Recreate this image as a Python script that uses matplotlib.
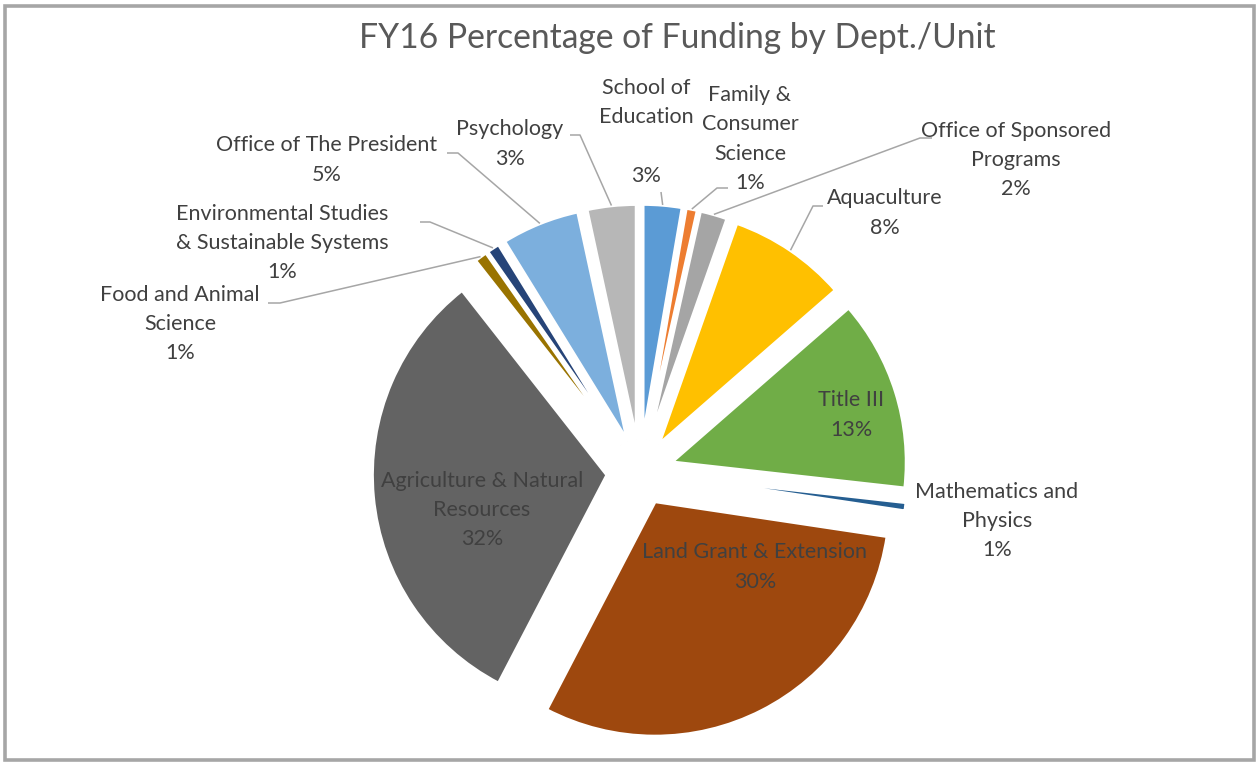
import numpy as np
import matplotlib
matplotlib.use("Agg")
import matplotlib.pyplot as plt
from matplotlib.patches import Rectangle

# data (clockwise from 12 o'clock)
departments = ["School of\nEducation", "Family &\nConsumer\nScience", "Office of Sponsored\nPrograms",
               "Aquaculture", "Title III", "Mathematics and\nPhysics", "Land Grant & Extension",
               "Agriculture & Natural\nResources", "Food and Animal\nScience",
               "Environmental Studies\n& Sustainable Systems", "Office of The President", "Psychology"]
shares = [2.7, 0.8, 1.9, 8.2, 13.2, 0.6, 30.3, 31.8, 0.9, 0.9, 5.4, 3.4]
colors = ["#5B9BD5", "#ED7D31", "#A5A5A5", "#FFC000", "#70AD47", "#255E91",
          "#9E480E", "#636363", "#997300", "#264478", "#7CAFDD", "#B7B7B7"]

# layout, in pixels from the top-left corner of the picture
W, H = 1259, 764
label_xy = [(646, 132), (750, 139), (1016, 160), (885, 213), (851, 415), (997, 521),
            (755, 567), (482, 510), (180, 324), (282, 243), (327, 160), (510, 144)]
# leader lines: elbow point then end of the short horizontal bit (None = no line)
leaders = [[(661, 192)], [(717, 188), (728, 188)], [(920, 138), (932, 138)],
           [(813, 206), (823, 206)], None, None, None, None,
           [(280, 303), (268, 303)], [(430, 222), (420, 222)],
           [(458, 153), (447, 153)], [(580, 135), (570, 135)]]
extra_gap = ["\n", "", "", "", "", "", "", "", "", "", "", ""]

plt.rcParams["font.family"] = ["Lato", "DejaVu Sans"]

fig = plt.figure(figsize=(W / 100, H / 100), dpi=100)
ax = fig.add_axes([0, 0, 1, 1])

total = sum(shares)
wedges, _ = ax.pie(shares, colors=colors, startangle=90, counterclock=False,
                   radius=235, center=(640, H - 472), explode=[33] * len(shares),
                   wedgeprops=dict(edgecolor="white", linewidth=2.5))
ax.set_xlim(0, W)
ax.set_ylim(0, H)
ax.set_aspect("auto")
ax.axis("off")

def px(p):
    return p[0], H - p[1]

for i, w in enumerate(wedges):
    pct = 100 * shares[i] / total
    txt = departments[i] + "\n" + extra_gap[i] + f"{pct:.0f}%"
    x, y = px(label_xy[i])
    ax.text(x, y, txt, ha="center", va="center", fontsize=15.5, color="#404040",
            linespacing=1.58)
    if leaders[i] is not None:
        mid = np.deg2rad((w.theta1 + w.theta2) / 2)
        cx, cy = w.center
        pts = [(cx + w.r * np.cos(mid), cy + w.r * np.sin(mid))] + [px(p) for p in leaders[i]]
        xs, ys = zip(*pts)
        ax.plot(xs, ys, color="#A6A6A6", lw=1.1, solid_capstyle="butt")

ax.text(677, H - 38, "FY16 Percentage of Funding by Dept./Unit", ha="center", va="center",
        fontsize=24.2, color="#595959")

ax.add_patch(Rectangle((5, 4), W - 10, H - 10, fill=False, edgecolor="#A6A6A6",
                       linewidth=2.6, clip_on=False))

fig.savefig("out.png", dpi=100)
